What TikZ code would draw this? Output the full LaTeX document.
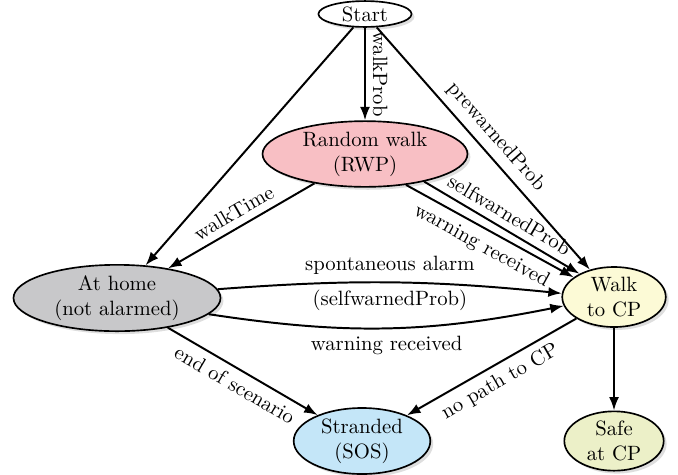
\documentclass[tikz,border=0pt]{standalone}
\usetikzlibrary{arrows.meta,shapes.geometric,shadows}

\definecolor{rwpred}{RGB}{248,191,196}
\definecolor{homegray}{RGB}{200,200,202}
\definecolor{walkyellow}{RGB}{252,250,214}
\definecolor{sosblue}{RGB}{196,230,248}
\definecolor{safegreen}{RGB}{236,240,200}

\begin{document}
\begin{tikzpicture}[
  x=0.483pt, y=-0.483pt,
  state/.style = {ellipse, draw, line width=0.8pt, inner sep=0.5pt, align=center,
                  drop shadow={fill=black!13, opacity=1,
                               shadow xshift=1.4pt, shadow yshift=-1.4pt}},
  trans/.style = {line width=0.95pt, ->},
  lbl/.style   = {sloped},
  >={Latex[length=6.5pt, width=4.8pt]}
]
  \useasboundingbox (0,0) rectangle (678,474);

  % Zustaende
  \node[state, fill=white, minimum width=45pt, minimum height=12.5pt]
        (start) at (365,14)  {Start};
  \node[state, fill=rwpred, minimum width=99pt, minimum height=30pt]
        (rwp)   at (365,154) {Random walk\\(RWP)};
  \node[state, fill=homegray, minimum width=100pt, minimum height=30pt]
        (home)  at (117,298) {At home\\(not alarmed)};
  \node[state, fill=walkyellow, minimum width=50pt, minimum height=29pt]
        (walk)  at (614,297) {Walk\\to CP};
  \node[state, fill=sosblue, minimum width=66pt, minimum height=29pt]
        (sos)   at (362,441) {Stranded\\(SOS)};
  \node[state, fill=safegreen, minimum width=48pt, minimum height=27pt]
        (safe)  at (614,441) {Safe\\at CP};

  % Uebergaenge vom Start
  \draw[trans] (start) -- (home);
  \draw[trans] (start) -- node[lbl, above] {walkProb} (rwp);
  \draw[trans] (start) -- node[lbl, above] {prewarnedProb} (walk);

  % Uebergaenge vom Random walk
  \draw[trans] (rwp) -- node[lbl, above] {walkTime} (home);
  \draw[trans] (rwp.-25) -- node[lbl, above] {selfwarnedProb} (walk.146);
  \draw[trans] (rwp.-37) -- node[lbl, below] {warning received} (walk.154);

  % Uebergaenge von zu Hause
  \draw[trans] (home.5) to[bend left=5]
        node[above] {spontaneous alarm} node[below] {(selfwarnedProb)} (walk.176);
  \draw[trans] (home.-10) to[bend right=10]
        node[below] {warning received} (walk.190);
  \draw[trans] (home) -- node[lbl, below] {end of scenario} (sos);

  % Uebergaenge vom Walk to CP
  \draw[trans] (walk) -- node[lbl, below] {no path to CP} (sos);
  \draw[trans] (walk) -- (safe);
\end{tikzpicture}
\end{document}
